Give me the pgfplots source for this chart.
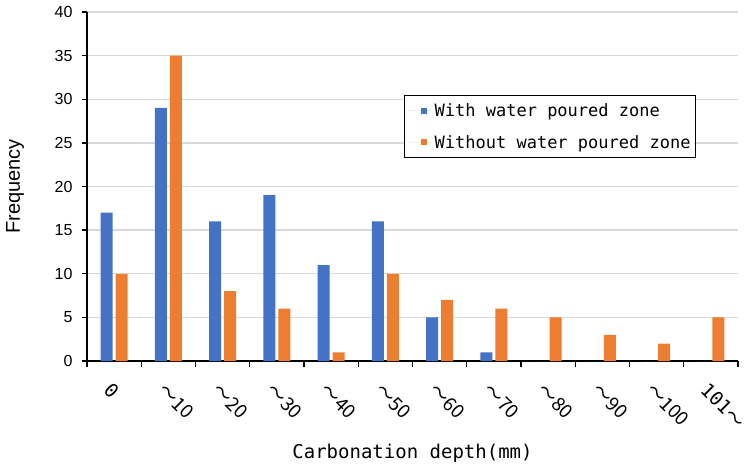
\documentclass[border=0pt]{standalone}
\usepackage{fontspec}
\setmainfont{Liberation Sans}
\newfontfamily\mono{DejaVu Sans Mono}
\newfontfamily\cjk{Noto Sans CJK JP}
\usepackage{pgfplots}
\pgfplotsset{compat=1.18}
\definecolor{WithBlue}{HTML}{4472C4}
\definecolor{WithoutOrange}{HTML}{ED7D31}
\definecolor{GridGray}{HTML}{D9D9D9}

\begin{document}
\begin{tikzpicture}
  \begin{axis}[
      scale only axis,
      width=651bp, height=349bp,
      ybar=3bp, bar width=12bp,
      xmin=-0.5, xmax=11.5,
      ymin=0, ymax=40,
      axis lines*=left,
      x axis line style={line width=2bp},
      y axis line style={line width=1.3bp},
      xtick={0,...,11},
      xticklabels={0,{\cjk{～}10},{\cjk{～}20},{\cjk{～}30},{\cjk{～}40},{\cjk{～}50},
                   {\cjk{～}60},{\cjk{～}70},{\cjk{～}80},{\cjk{～}90},{\cjk{～}100},{101\cjk{～}}},
      minor xtick={-0.5,0.5,...,11.5},
      ytick={0,5,...,40},
      tick align=outside,
      major tick length=5bp,
      minor tick length=6bp,
      major x tick style={draw=none},
      minor x tick style={black, line width=1.3bp},
      major y tick style={black, line width=1.3bp},
      ymajorgrids,
      grid style={GridGray, line width=1.3bp},
      /pgf/number format/assume math mode=true,
      y tick label style={font=\fontsize{16bp}{19bp}\selectfont, xshift=-6bp},
      x tick label style={font=\mono\fontsize{19bp}{22bp}\selectfont, rotate=-45,
                          anchor=north west, inner sep=0pt, xshift=10bp, yshift=-12bp},
      xlabel={Carbonation depth(mm)},
      xlabel style={font=\mono\fontsize{19bp}{22bp}\selectfont,
                    at={(axis description cs:0.5,-0.237)}, anchor=north, inner sep=0pt},
      ylabel={Frequency},
      ylabel style={font=\fontsize{20bp}{24bp}\selectfont,
                    at={(axis description cs:-0.1106,0.5)}, anchor=center, rotate=0, inner sep=0pt},
      legend style={at={(axis description cs:0.487,0.762)}, anchor=north west,
                    draw=black, line width=1.3bp, fill=white,
                    font=\mono\fontsize{17bp}{20bp}\selectfont,
                    row sep=13bp, inner xsep=3bp, inner ysep=6bp},
      legend cell align=left,
      legend image code/.code={\path (0bp,0bp) -- (25bp,0bp);
                               \fill[#1, draw=none] (13bp,-3bp) rectangle (19bp,3bp);},
    ]
    \addplot[fill=WithBlue, draw=none] coordinates {
      (0,17) (1,29) (2,16) (3,19) (4,11) (5,16)
      (6,5) (7,1) (8,0) (9,0) (10,0) (11,0)
    };
    \addlegendentry{With water poured zone}
    \addplot[fill=WithoutOrange, draw=none] coordinates {
      (0,10) (1,35) (2,8) (3,6) (4,1) (5,10)
      (6,7) (7,6) (8,5) (9,3) (10,2) (11,5)
    };
    \addlegendentry{Without water poured zone}
  \end{axis}
  \pgfresetboundingbox
  \path[use as bounding box] (current axis.south west) ++(-87bp,-108bp) rectangle ++(748bp,469bp);
\end{tikzpicture}
\end{document}
